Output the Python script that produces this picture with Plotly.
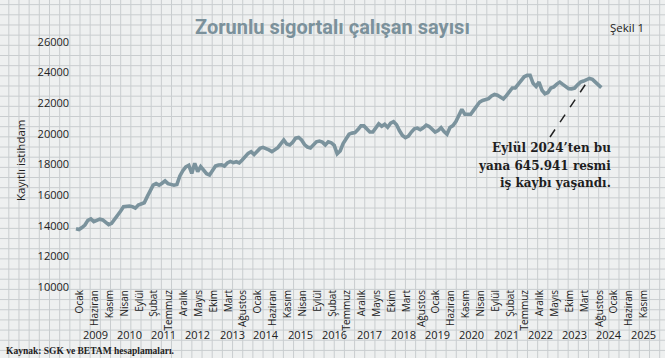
import plotly.graph_objects as go

W, H = 665, 358

# Monthly registered employment (thousands)
values = [
    13800, 13750, 13880, 14050, 14350, 14450, 14270, 14380, 14430, 14380,
    14250, 14070, 14160, 14400, 14650, 14950, 15240, 15270, 15290, 15250,
    15150, 15350, 15400, 15500, 15900, 16250, 16650, 16750, 16650, 16780,
    16930, 16750, 16680, 16650, 16700, 17250, 17600, 17850, 17950, 17420,
    18080, 17530, 17860, 17640, 17400, 17310, 17650, 17900, 17970, 17980,
    17900, 18100, 18200, 18120, 18180, 18100, 18300, 18500, 18730, 18840,
    18650, 18850, 19050, 19120, 19060, 18950, 18840, 18950, 19100, 19350,
    19600, 19340, 19270, 19450, 19720, 19770, 19600, 19300, 19140, 19080,
    19270, 19480, 19530, 19460, 19280, 19480, 19420, 19250, 18700, 18880,
    19370, 19650, 19980, 20050, 20080, 20280, 20520, 20520, 20330, 20120,
    20120, 20400, 20650, 20500, 20630, 20430, 20700, 20800, 20600, 20200,
    19900, 19750, 19860, 20120, 20330, 20380, 20270, 20400, 20570, 20480,
    20330, 20120, 20220, 20400, 20150, 19980, 20420, 20540, 20800, 21200,
    21600, 21280, 21280, 21280, 21550, 21850, 22080, 22180, 22230, 22300,
    22480, 22570, 22520, 22400, 22280, 22500, 22750, 23000, 23000, 23250,
    23500, 23730, 23820, 23820, 23300, 23100, 23380, 22850, 22620, 22700,
    23000, 23070, 23250, 23380, 23230, 23050, 22950, 22940, 22990, 23200,
    23380, 23450, 23560, 23620, 23560, 23400, 23200, 23020,
]

month_labels = [
    "Ocak", "Haziran", "Kasım", "Nisan", "Eylül", "Şubat", "Temmuz", "Aralık",
    "Mayıs", "Ekim", "Mart", "Ağustos",
] * 3 + ["Ocak", "Haziran", "Kasım"]

year_labels = [str(y) for y in range(2009, 2026)]

y_ticks = list(range(10000, 26001, 2000))

# ---------------- layout geometry (pixels) ----------------
PX0, PXS = 76.0, 2.968          # pixel of month index 0, pixels per month
def idx(px):
    return (px - PX0) / PXS

x_range = [-2, 195]
x_dom = [(PX0 + PXS * x_range[0]) / W, (PX0 + PXS * x_range[1]) / W]
y_dom = [1 - 287 / H, 1 - 42 / H]

x = list(range(len(values)))
tick_vals = [idx(80) + 5 * k for k in range(len(month_labels))]

fig = go.Figure()
fig.add_trace(go.Scatter(
    x=x, y=values, mode="lines",
    line=dict(color="#7b939d", width=3.6),
    hoverinfo="skip", showlegend=False,
))

# graph-paper background
shapes = []
grid_col = "#c9cdcf"
step = 10.17
vx = 80.0
while vx - step > 0:
    vx -= step
while vx < W:
    shapes.append(dict(type="line", xref="paper", yref="paper",
                       x0=vx / W, x1=vx / W, y0=0, y1=1,
                       line=dict(color=grid_col, width=1), layer="below"))
    vx += step
hy = 289.4
while hy - step > 0:
    hy -= step
while hy < H:
    shapes.append(dict(type="line", xref="paper", yref="paper",
                       x0=0, x1=1, y0=1 - hy / H, y1=1 - hy / H,
                       line=dict(color=grid_col, width=1), layer="below"))
    hy += step

# dashed pointer to the Sep 2024 peak
tail = values[-12:]
peak_i = len(values) - 12 + tail.index(max(tail))
shapes.append(dict(type="line", xref="x", yref="y",
                   x0=idx(550), y0=10000 + (287 - 137) * 16000 / 245,
                   x1=peak_i, y1=values[peak_i],
                   line=dict(color="#222222", width=1.5, dash="dash"),
                   layer="above"))

annotations = []
# title
annotations.append(dict(text="<b>Zorunlu sigortalı çalışan sayısı</b>",
                        xref="paper", yref="paper", x=332 / W, y=1 - 27 / H,
                        xanchor="center", yanchor="middle", showarrow=False,
                        font=dict(family="Liberation Sans Narrow, Roboto", size=20,
                                  color="#7b919b")))
annotations.append(dict(text="Şekil 1", xref="paper", yref="paper",
                        x=627 / W, y=1 - 27 / H, xanchor="center", yanchor="middle",
                        showarrow=False,
                        font=dict(family="Open Sans", size=11.5, color="#222")))
# y title
annotations.append(dict(text="Kayıtlı istihdam", xref="paper", yref="paper",
                        x=20 / W, y=1 - 160 / H, textangle=-90,
                        xanchor="center", yanchor="middle", showarrow=False,
                        font=dict(family="Open Sans", size=11.5, color="#222")))
# year labels
for k, yl in enumerate(year_labels):
    annotations.append(dict(text=yl, xref="x", yref="paper",
                            x=idx(95 + 34.25 * k), y=1 - 334 / H,
                            xanchor="center", yanchor="middle", showarrow=False,
                            font=dict(family="Open Sans", size=11, color="#222")))
# callout text
call_lines = ["Eylül 2024’ten bu", "yana 645.941 resmi", "iş kaybı yaşandı."]
for j, t in enumerate(call_lines):
    annotations.append(dict(text="<b>" + t + "</b>", xref="paper", yref="paper",
                            x=613 / W, y=1 - (148 + 17.5 * j) / H,
                            xanchor="right", yanchor="middle", showarrow=False,
                            font=dict(family="DejaVu Serif", size=12, color="#1e1e1e")))
# source
annotations.append(dict(text="<b>Kaynak: SGK ve BETAM hesaplamaları.</b>",
                        xref="paper", yref="paper", x=4 / W, y=1 - 351 / H,
                        xanchor="left", yanchor="middle", showarrow=False,
                        font=dict(family="Liberation Serif", size=9.5, color="#222")))

fig.update_layout(
    width=W, height=H,
    margin=dict(l=0, r=0, t=0, b=0),
    paper_bgcolor="#eef0f0",
    plot_bgcolor="rgba(0,0,0,0)",
    shapes=shapes,
    annotations=annotations,
    xaxis=dict(domain=x_dom, range=x_range, tickmode="array",
               tickvals=tick_vals, ticktext=month_labels, tickangle=-90,
               tickfont=dict(family="Liberation Sans Narrow, Open Sans", size=10, color="#222"),
               showgrid=False, zeroline=False, showline=False, ticks="",
               automargin=False, fixedrange=True),
    yaxis=dict(domain=y_dom, range=[10000, 26000], tickmode="array",
               tickvals=y_ticks, ticktext=[str(v) for v in y_ticks],
               tickfont=dict(family="Open Sans", size=11, color="#222"),
               showgrid=False, zeroline=False, showline=False, ticks="",
               automargin=False, fixedrange=True),
    showlegend=False,
)

fig.write_html(
    "out.html",
    config={"displayModeBar": False},
    post_script="document.body.style.margin='0';document.body.style.overflow='hidden';",
)
